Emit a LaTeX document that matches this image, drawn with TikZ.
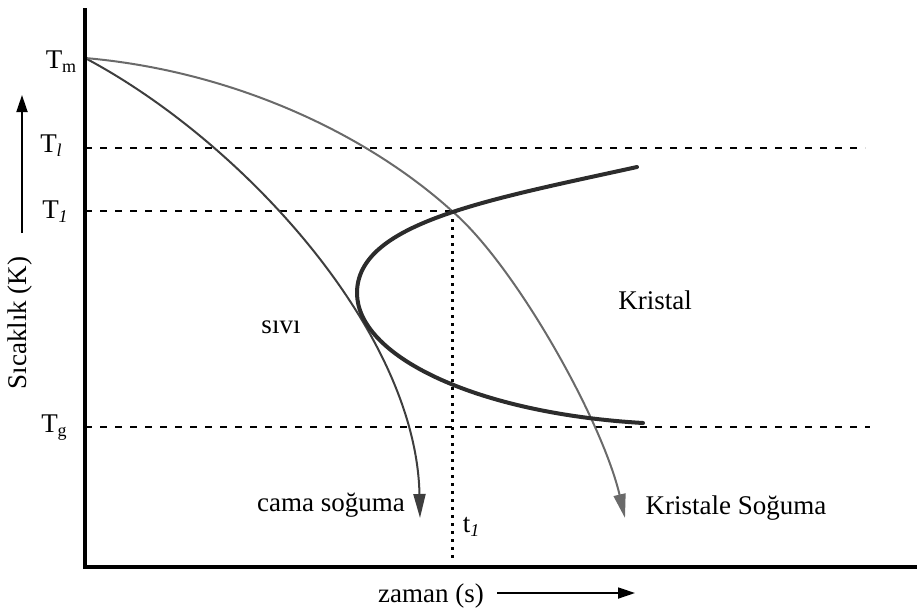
\documentclass[tikz,border=0pt]{standalone}
\usepackage{fontspec}
\setmainfont{Liberation Serif}
\usetikzlibrary{arrows.meta}
\definecolor{cglass}{HTML}{3e3e3e}
\definecolor{ccrys}{HTML}{6a6a6a}
\definecolor{cnose}{HTML}{2c2c2c}
\newcommand{\lowsub}[1]{\raisebox{-4pt}{\fontsize{18}{18}\selectfont #1}}

\begin{document}
\begin{tikzpicture}[
  x=1pt, y=-1pt,
  font=\fontsize{27}{32}\selectfont,
  every node/.style={inner sep=0pt},
  axis/.style={line width=3.5pt, draw=black},
  guide/.style={line width=2.8pt, dash pattern=on 7pt off 8pt},
  tline/.style={line width=3pt, dash pattern=on 3pt off 5pt},
  cool/.style={line width=2pt, -{Triangle[length=24pt,width=12pt]}},
  nose/.style={line width=4pt, draw=cnose, line cap=round},
  hint/.style={line width=1.8pt, -{Triangle[length=17pt,width=11pt]}},
]
\useasboundingbox (0,0) rectangle (917,611);

% reference levels
\coordinate (Tm) at (85,58);
\coordinate (cross) at (452,211);
\coordinate (nosetip) at (357,293);
\draw[guide] (85,148) -- (865,148);
\draw[guide] (85,211) -- (cross);
\draw[guide] (85,427) -- (870,427);
\draw[tline] (cross) -- (452,560);

% cooling paths
\draw[cool, draw=cglass] (Tm) .. controls (240,140) and (416,330) .. (420,518);
\draw[cool, draw=ccrys] (Tm) .. controls (235,71) and (368,135) .. (cross)
  .. controls (515,265) and (602,420) .. (625,518);

% TTT nose
\draw[nose] (637,167) .. controls (487,200) and (357,223) .. (nosetip)
  .. controls (357,355) and (473,413) .. (643,423);

% axes
\draw[axis] (85,8) -- (85,567) -- (917,567);

% labels
\node (tm) at (61,62) {T\lowsub{m}};
\node (tl) at (51,146) {T\lowsub{\itshape l}};
\node (t1) at (55,212) {T\lowsub{\itshape 1}};
\node (tg) at (54,428) {T\lowsub{g}};
\node (tt) at (471,527) {t\lowsub{\itshape 1}};
\node (liq)  at (281,327) {sıvı};
\node (crys) at (655,300) {Kristal};
\node (glass) at (331,505) {cama soğuma};
\node (crysc) at (736,508) {Kristale Soğuma};
\node (time) at (431,596) {zaman (s)};
\node[rotate=90] (temp) at (20,323) {Sıcaklık (K)};

\coordinate (ta) at (497,593);
\coordinate (tb) at (635,593);
\draw[hint] (ta) -- (tb);
\coordinate (ya) at (22,233);
\coordinate (yb) at (22,95);
\draw[hint] (ya) -- (yb);
\end{tikzpicture}
\end{document}
